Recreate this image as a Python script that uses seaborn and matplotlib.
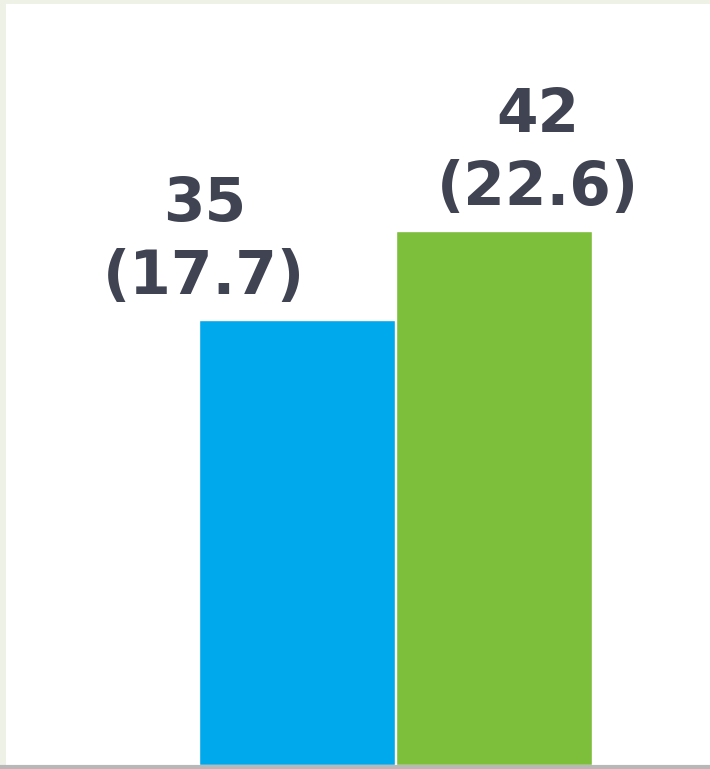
import matplotlib
matplotlib.use("Agg")
import matplotlib.pyplot as plt
import seaborn as sns
import pandas as pd

categories = ["Series 1", "Series 2"]
values = [35, 42]
secondary = [17.7, 22.6]
colors = ["#00A9EC", "#7DBE3A"]

sns.set_style("white")
plt.rcParams['font.family'] = ['DejaVu Sans']

df = pd.DataFrame({"category": categories, "value": values})

fig = plt.figure(figsize=(7.1, 7.69), dpi=100, facecolor="#EEF1E6")
W, H = 710, 769
ax = fig.add_axes([6 / W, 4 / H, 704 / W, 761 / H])
ax.set_facecolor("white")

sns.barplot(data=df, x="category", y="value", hue="category",
            palette=colors, width=0.99, ax=ax, legend=False, saturation=1)

ax.set_xlim((6 - 297) / 197, (710 - 297) / 197)
ax.set_ylim(0, 761 / 12.71)
ax.set_xticks([])
ax.set_yticks([])
ax.set_xlabel("")
ax.set_ylabel("")
for s in ax.spines.values():
    s.set_visible(False)

offsets = [-0.47, 0.225]
for i, (v, s) in enumerate(zip(values, secondary)):
    ax.text(i + offsets[i], v + 1.0, f"{v}\n({s})", ha="center", va="bottom",
            fontsize=43, fontweight="bold", color="#3F4352", linespacing=1.32)

fig.add_artist(plt.Line2D([0, 1], [2 / H, 2 / H], color="#B8B8B8", lw=3))

fig.savefig("out.png", dpi=100, facecolor=fig.get_facecolor())
